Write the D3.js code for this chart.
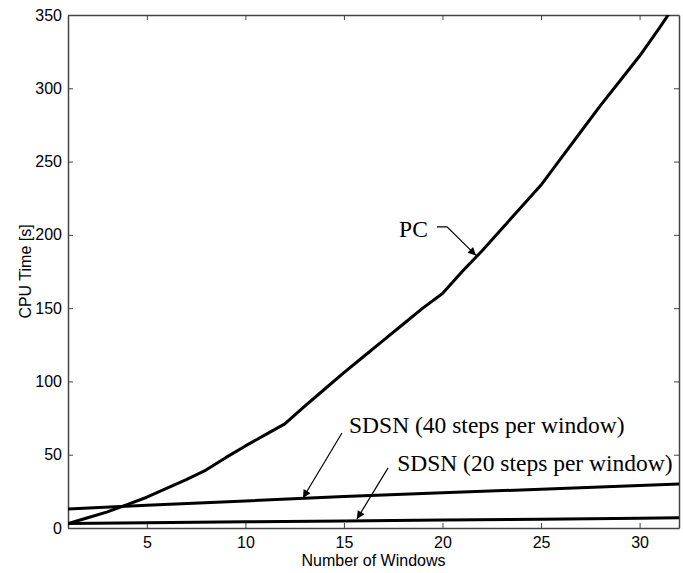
<!DOCTYPE html>
<html>
<head>
<meta charset="utf-8">
<script src="https://cdn.jsdelivr.net/npm/d3@7"></script>
<style>
  html, body { margin: 0; padding: 0; background: #fff; }
  svg { display: block; }
</style>
</head>
<body>
<svg id="chart" width="683" height="573"></svg>
<script>
// ---- data ----
const pcX   = [1, 2, 3, 4, 5, 6, 7, 8, 9, 10, 11, 12, 13, 14, 15, 16, 17, 18, 19, 20, 21, 22, 23, 24, 25, 26, 27, 28, 29, 30, 31, 32];
const pcY   = [3, 7, 11, 16, 21, 27, 33, 39.5, 48, 56, 63.5, 71, 83, 94.5, 106, 117, 128, 139, 150, 160, 175, 189, 204, 219, 234, 252, 270, 288, 305, 322, 341, 361];
const sdsnX = [1, 5, 10, 15, 20, 25, 30, 32];
const sdsn40Y = [13, 15.5, 18.5, 21.5, 24, 26.5, 29, 30];
const sdsn20Y = [3, 3.5, 4.2, 4.8, 5.4, 6, 6.6, 7];
const xTicks = [5, 10, 15, 20, 25, 30];
const yTicks = [0, 50, 100, 150, 200, 250, 300, 350];
const xTitle = "Number of Windows";
const yTitle = "CPU Time [s]";
// annotations: label anchor, arrow path (data units)
const annLabels = ["PC", "SDSN (40 steps per window)", "SDSN (20 steps per window)"];
const annTextPos = [[17.8, 198.5], [15.26, 64.8], [17.7, 38.9]];
const annArrows = [
  [[19.72, 205.4], [20.23, 205.4], [21.7, 186]],
  [[14.9, 64.8], [12.92, 20.5]],
  [[17.24, 41], [15.66, 6.1]]
];

// ---- layout ----
const svg = d3.select("#chart");
const L = 68, R = 679, T = 15, B = 528;
const x = d3.scaleLinear().domain([1, 32]).range([L, R]);
const y = d3.scaleLinear().domain([0, 350]).range([B, T]);

svg.append("defs").append("clipPath").attr("id", "clip")
  .append("rect").attr("x", L).attr("y", T).attr("width", R - L).attr("height", B - T);

const marker = svg.select("defs").append("marker")
  .attr("id", "arrow").attr("viewBox", "0 0 10 10")
  .attr("refX", 10).attr("refY", 5)
  .attr("markerWidth", 14).attr("markerHeight", 8)
  .attr("markerUnits", "userSpaceOnUse")
  .attr("orient", "auto");
marker.append("path").attr("d", "M0,0 L10,5 L0,10 Z").attr("fill", "#000");

const axisColor = "#444";
const font = "'Liberation Sans', Arial, Helvetica, sans-serif";

// axes
const gx = svg.append("g").attr("transform", `translate(0,${B})`)
  .call(d3.axisBottom(x).tickValues(xTicks).tickSizeInner(-5).tickSizeOuter(0).tickPadding(9));
const gxTop = svg.append("g").attr("transform", `translate(0,${T})`)
  .call(d3.axisTop(x).tickValues(xTicks).tickSizeInner(-5).tickSizeOuter(0).tickFormat(""));
const gy = svg.append("g").attr("transform", `translate(${L},0)`)
  .call(d3.axisLeft(y).tickValues(yTicks).tickSizeInner(-5).tickSizeOuter(0).tickPadding(6));
const gyR = svg.append("g").attr("transform", `translate(${R},0)`)
  .call(d3.axisRight(y).tickValues(yTicks).tickSizeInner(-5).tickSizeOuter(0).tickFormat(""));

[gx, gxTop, gy, gyR].forEach(g => {
  g.select(".domain").attr("stroke", axisColor).attr("stroke-width", 1.5);
  g.selectAll(".tick line").attr("stroke", axisColor).attr("stroke-width", 1);
  g.selectAll(".tick text").attr("fill", "#000").style("font-family", font).style("font-size", "16px");
});

// axis titles
svg.append("text").attr("x", (L + R) / 2).attr("y", 566)
  .attr("text-anchor", "middle").style("font-family", font).style("font-size", "16px")
  .text(xTitle);
svg.append("text").attr("transform", `translate(31,${(T + B) / 2}) rotate(-90)`)
  .attr("text-anchor", "middle").style("font-family", font).style("font-size", "16px")
  .text(yTitle);

// series
const line = d3.line().x(d => x(d[0])).y(d => y(d[1]));
const plot = svg.append("g").attr("clip-path", "url(#clip)");
const series = [
  d3.zip(pcX, pcY),
  d3.zip(sdsnX, sdsn40Y),
  d3.zip(sdsnX, sdsn20Y)
];
series.forEach(s => {
  plot.append("path").datum(s).attr("d", line)
    .attr("fill", "none").attr("stroke", "#000").attr("stroke-width", 3)
    .attr("stroke-linejoin", "round");
});

// annotations
annLabels.forEach((t, i) => {
  svg.append("text").attr("x", x(annTextPos[i][0])).attr("y", y(annTextPos[i][1]))
    .style("font-family", "'Liberation Serif', 'Times New Roman', serif")
    .style("font-size", "23.5px").attr("fill", "#000").text(t);
  svg.append("path").datum(annArrows[i]).attr("d", line)
    .attr("fill", "none").attr("stroke", "#000").attr("stroke-width", 1.2)
    .attr("marker-end", "url(#arrow)");
});
</script>
</body>
</html>
